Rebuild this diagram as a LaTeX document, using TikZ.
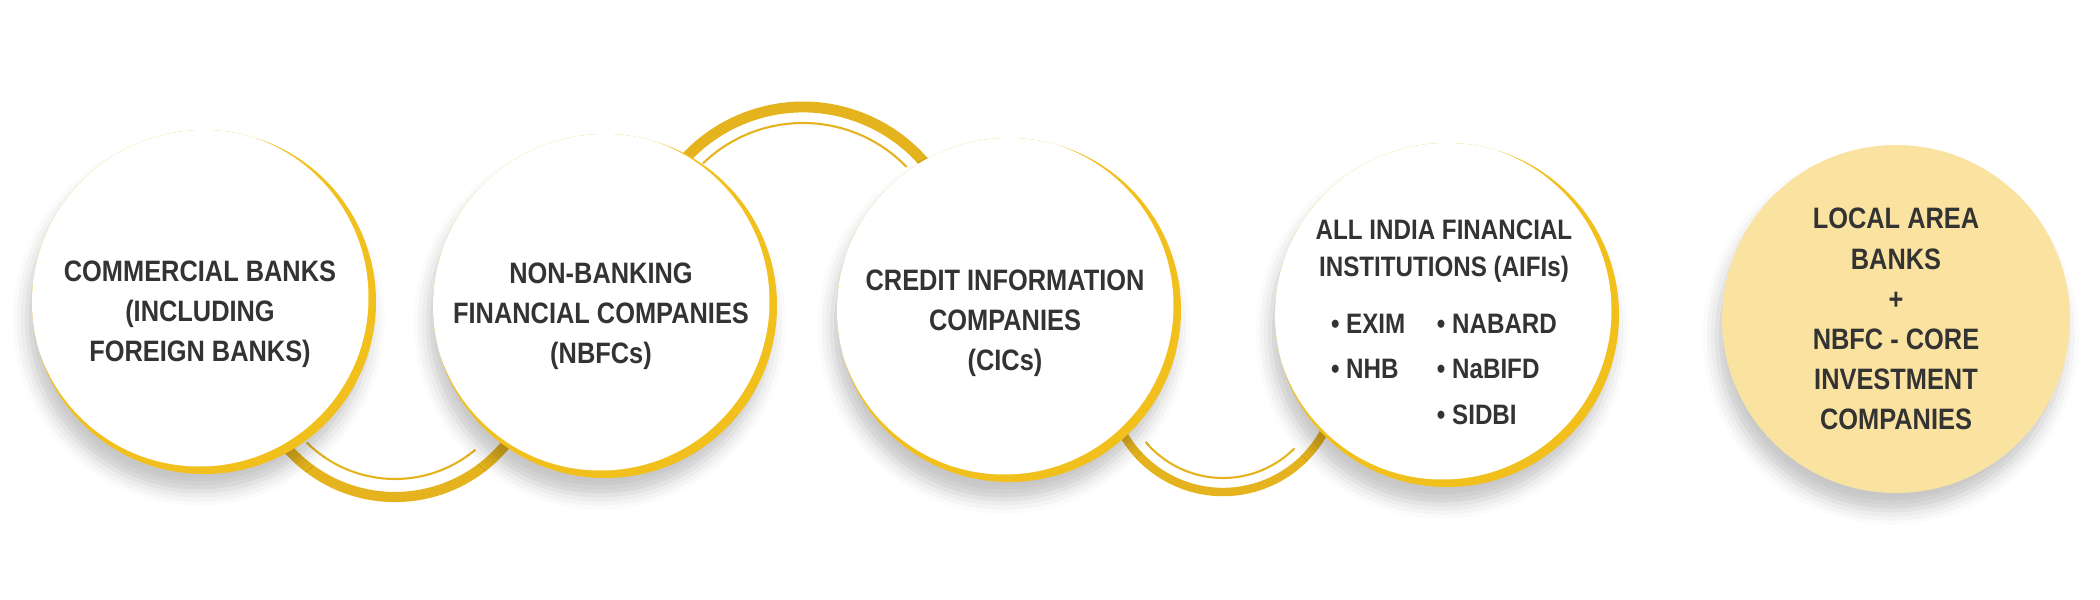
\documentclass[tikz,border=0pt]{standalone}
\usepackage{fontspec}
\setmainfont{Liberation Sans}[FakeStretch=0.86]
\usetikzlibrary{shadows.blur}
\definecolor{gold}{HTML}{E5B31E}
\definecolor{rim}{HTML}{F2C01C}
\definecolor{ink}{HTML}{333333}
\definecolor{cream}{HTML}{FAE3A0}

\begin{document}
\begin{tikzpicture}[
  disc/.style={circle, minimum size=3.44cm, inner sep=0pt, fill=rim, text=ink, align=center,
    font=\fontsize{8.4}{11.4}\selectfont\bfseries,
    blur shadow={shadow xshift=-1.5pt, shadow yshift=-5pt, shadow blur radius=4pt, shadow opacity=22},
    path picture={\fill [white] ([shift={(-0.045,0.045)}]path picture bounding box.center) circle (1.69);}},
  caption/.style={text=ink, align=center, inner sep=0pt, font=\fontsize{8.4}{11.4}\selectfont\bfseries},
  link/.style={gold, line width=#1}, link/.default=2.9pt,
  thin link/.style={gold, line width=0.6pt}]
\useasboundingbox (0,0) rectangle (21,6);
\coordinate (j12) at (3.95,2.46);
\coordinate (j23) at (8.03,3.33);
\coordinate (j34) at (12.23,2.23);
\draw [link] (j12) ++(190:1.43) arc [start angle=190, end angle=350, radius=1.43];
\draw [thin link] (j12) ++(225:1.25) arc [start angle=225, end angle=310, radius=1.25];
\draw [link=3.1pt] (j23) ++(20:1.60) arc [start angle=20, end angle=160, radius=1.60];
\draw [thin link] (j23) ++(44:1.44) arc [start angle=44, end angle=134, radius=1.44];
\draw [link=2.4pt] (j34) ++(195:1.15) arc [start angle=195, end angle=345, radius=1.15];
\draw [thin link] (j34) ++(220:1.01) arc [start angle=220, end angle=315, radius=1.01];
\node [disc] (cb) at (2.04,2.98) {};
\node [disc] (nbfc) at (6.05,2.94) {};
\node [disc] (cic) at (10.09,2.90) {};
\node [disc] (aifi) at (14.47,2.85) {};
\node [caption] (cb-t) at ([xshift=-0.04cm, yshift=-0.12cm]cb) {COMMERCIAL BANKS\\(INCLUDING\\FOREIGN BANKS)};
\node [caption] (nbfc-t) at ([xshift=-0.04cm, yshift=-0.1cm]nbfc) {NON-BANKING\\FINANCIAL COMPANIES\\(NBFCs)};
\node [caption] (cic-t) at ([xshift=-0.04cm, yshift=-0.13cm]cic) {CREDIT INFORMATION\\COMPANIES\\(CICs)};
\node [caption, font=\fontsize{8}{10.4}\selectfont\bfseries] (aifi-t) at ([xshift=-0.03cm, yshift=-0.14cm]aifi) {ALL INDIA FINANCIAL\\INSTITUTIONS (AIFIs)\\[4.5pt]
  \renewcommand{\arraystretch}{1.24}\begin{tabular}{@{}l@{\hspace{9pt}}l@{}}
  \textbullet\ EXIM & \textbullet\ NABARD\\
  \textbullet\ NHB & \textbullet\ NaBIFD\\
  & \textbullet\ SIDBI
  \end{tabular}};
\node [disc, fill=cream, path picture={}, minimum size=3.48cm] (lab) at (18.96,2.81) {LOCAL AREA\\BANKS\\+\\NBFC - CORE\\INVESTMENT\\COMPANIES};
\end{tikzpicture}
\end{document}
